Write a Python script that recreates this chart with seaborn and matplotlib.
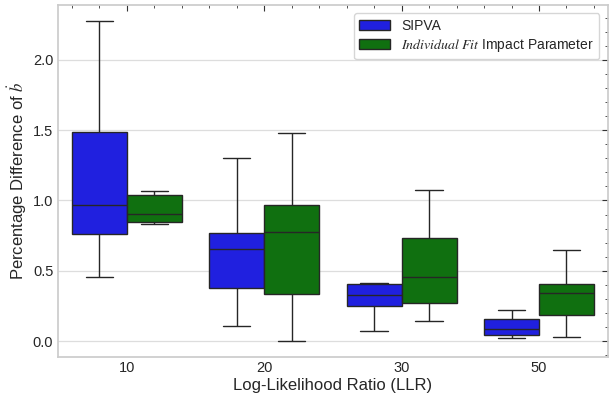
import numpy as np
import pandas as pd
import seaborn as sns
import matplotlib.pyplot as plt
from matplotlib.ticker import MultipleLocator

# =========================
# DATA (five-number summaries)
# =========================

llr_levels = ["10", "20", "30", "50"]
methods = ["SIPVA", r"$\mathit{Individual\ Fit}$ Impact Parameter"]

# min, q1, median, q3, max
sipva_stats = [
    [0.456, 0.760, 0.965, 1.490, 2.277],
    [0.108, 0.381, 0.653, 0.768, 1.299],
    [0.073, 0.249, 0.327, 0.406, 0.413],
    [0.026, 0.047, 0.087, 0.160, 0.220],
]
fit_stats = [
    [0.834, 0.846, 0.906, 1.036, 1.066],
    [0.000, 0.336, 0.775, 0.968, 1.480],
    [0.146, 0.270, 0.454, 0.730, 1.073],
    [0.029, 0.184, 0.339, 0.409, 0.650],
]


def build_frame():
    rows = []
    for name, stats in zip(methods, [sipva_stats, fit_stats]):
        for llr, vals in zip(llr_levels, stats):
            for v in vals:
                rows.append({"llr": llr, "method": name, "value": v})
    return pd.DataFrame(rows)


def main():
    df = build_frame()

    sns.set_theme(style="whitegrid")
    plt.rcParams["font.family"] = ["Liberation Sans", "DejaVu Sans"]
    plt.rcParams["mathtext.fontset"] = "stix"
    plt.rcParams["xtick.direction"] = "in"
    plt.rcParams["ytick.direction"] = "in"

    fig, ax = plt.subplots(figsize=(6.12, 3.96), dpi=100)
    fig.subplots_adjust(left=0.095, right=0.993, top=0.988, bottom=0.098)

    sns.boxplot(data=df, x="llr", y="value", hue="method", order=llr_levels,
                palette=["blue", "green"], whis=(0, 100), width=0.8, ax=ax)

    ax.set_xlim(-0.5, 3.5)
    ax.set_xlabel("Log-Likelihood Ratio (LLR)", fontsize=12, labelpad=2)
    ax.set_ylabel(r"Percentage Difference of $\dot{b}$", fontsize=12, labelpad=3)

    ax.yaxis.set_major_locator(MultipleLocator(0.5))
    ax.yaxis.set_minor_locator(MultipleLocator(0.1))
    ax.xaxis.set_minor_locator(MultipleLocator(0.2))
    ax.xaxis.grid(False)
    ax.yaxis.grid(True, color="#dddddd", linewidth=0.9)

    ax.tick_params(which="both", top=True, right=True, direction="in",
                   color="#333333", labelsize=10.5, labelcolor="#262626")
    ax.tick_params(which="major", length=4, width=0.8)
    ax.tick_params(which="minor", length=2, width=0.6)
    ax.tick_params(axis="x", which="major", pad=3)
    for s in ax.spines.values():
        s.set_color("#cccccc")

    ax.legend(loc="upper right", fontsize=10, frameon=True, title=None,
              borderaxespad=0.6, labelspacing=0.3, handlelength=2.2)

    fig.savefig("out.png", dpi=100)


if __name__ == "__main__":
    main()
